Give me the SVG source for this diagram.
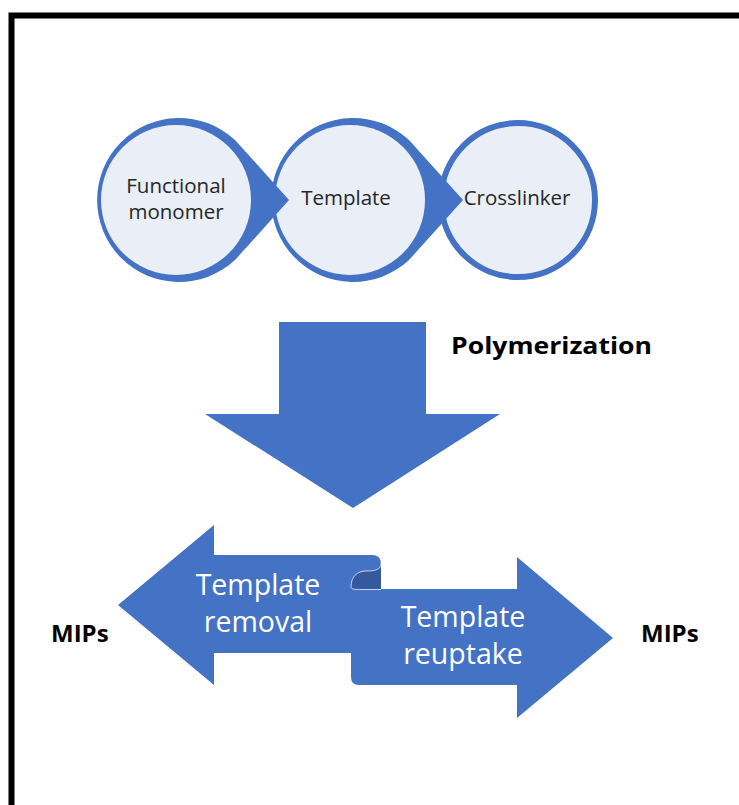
<svg xmlns="http://www.w3.org/2000/svg" width="739" height="805" viewBox="0 0 739 805">
  <style>
    .blue { fill: #4472C4; }
    .light { fill: #E9EEF7; }
    .ctext { font-family: "Open Sans", "Liberation Sans", sans-serif; font-size: 20.5px; fill: #262626; text-anchor: middle; }
    .btext { font-family: "Open Sans", "Liberation Sans", sans-serif; font-size: 24px; font-weight: bold; fill: #000; }
    .wtext { font-family: "Open Sans", "Liberation Sans", sans-serif; font-size: 28.5px; fill: #FFFFFF; text-anchor: middle; }
  </style>
  <rect width="739" height="805" fill="#FFFFFF"/>
  <path d="M 11.5 805 V 15.5 H 739" fill="none" stroke="#000" stroke-width="6"/>

  <g id="crosslinker">
    <circle cx="518" cy="200" r="77" class="light" stroke="#4472C4" stroke-width="6"/>
    <text class="ctext" x="517" y="205">Crosslinker</text>
  </g>
  <g id="template">
    <path class="blue" d="M 409 140 L 463 200 L 409 260 A 82 82 0 1 1 409 140 Z"/>
    <circle cx="350" cy="200" r="75" class="light"/>
    <text class="ctext" x="346" y="205">Template</text>
  </g>
  <g id="functional-monomer">
    <path class="blue" d="M 235 140 L 289 200 L 235 260 A 82 82 0 1 1 235 140 Z"/>
    <circle cx="176" cy="200" r="75" class="light"/>
    <text class="ctext" x="176" y="193">Functional</text>
    <text class="ctext" x="176" y="219">monomer</text>
  </g>

  <g id="connectors">
    <path id="polymerization-arrow" class="blue" d="M 279 322 H 426 V 414 H 500 L 353 508 L 205 414 H 279 Z"/>
    <g id="template-removal-arrow">
      <path class="blue" d="M 118 605 L 214 525 L 214 555 L 372 555 Q 381 555 381 564 L 381 589 L 351 589 L 351 653 L 214 653 L 214 685 Z"/>
      <path d="M 351 587 C 351 576 358 571 366 571 C 375 571 381 570 381 563 L 381 590 L 362 590 C 355 590 351 590 351 587 Z" fill="#35599C"/>
    </g>
    <g id="template-reuptake-arrow">
      <path class="blue" d="M 351 587 L 351 677 Q 351 685 359 685 L 517 685 L 517 718 L 613 638 L 517 557 L 517 589 L 362 589 C 355 589 351 589 351 587 Z"/>
      <path d="M 351 587 C 351 576 358 571 366 571 C 375 571 381 570 381 563" fill="none" stroke="#FFFFFF" stroke-opacity="0.7" stroke-width="1"/>
      <path d="M 351 587 C 351 589.5 355 589.5 362 589.5 L 381 589.5" fill="none" stroke="#FFFFFF" stroke-opacity="0.7" stroke-width="1"/>
    </g>
  </g>

  <g id="label-polymerization">
    <text class="btext" x="451" y="354" font-size="26" textLength="201" lengthAdjust="spacingAndGlyphs">Polymerization</text>
  </g>
  <g id="label-template-removal">
    <text class="wtext" x="258" y="595">Template</text>
    <text class="wtext" x="258" y="632">removal</text>
  </g>
  <g id="label-template-reuptake">
    <text class="wtext" x="463" y="627">Template</text>
    <text class="wtext" x="463" y="664">reuptake</text>
  </g>
  <g id="mips-left">
    <text class="btext" x="51" y="642">MIPs</text>
  </g>
  <g id="mips-right">
    <text class="btext" x="641" y="642">MIPs</text>
  </g>
</svg>
